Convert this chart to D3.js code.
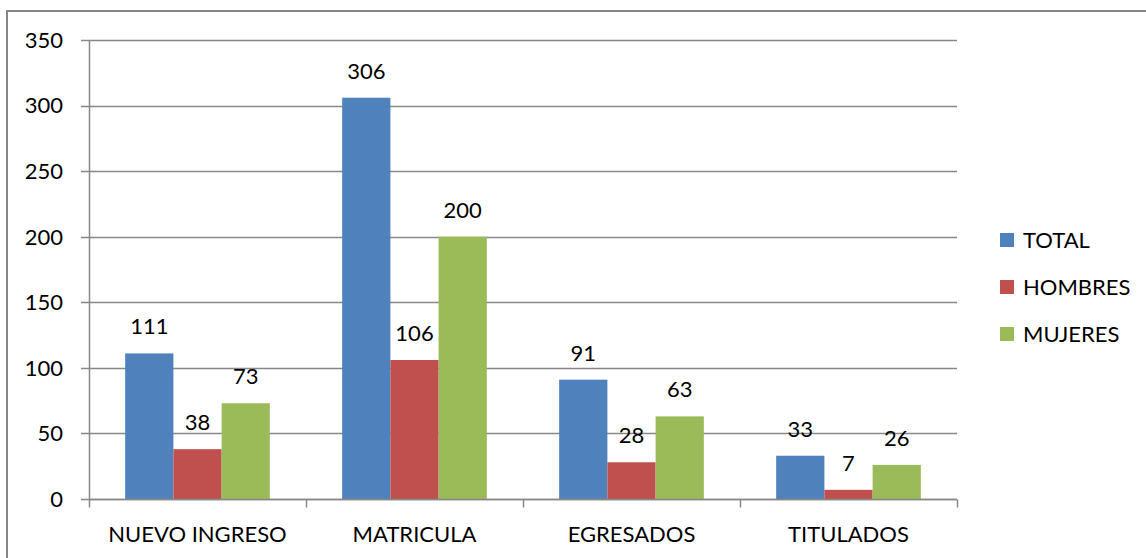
<!DOCTYPE html>
<html>
<head>
<meta charset="utf-8">
<script src="https://cdn.jsdelivr.net/npm/d3@7"></script>
<style>
  body { margin: 0; background: #fff; }
  svg { display: block; font-family: Lato, "Open Sans", sans-serif; }
</style>
</head>
<body>
<svg id="vis" width="1146" height="558"></svg>
<script>
var categories = ["NUEVO INGRESO", "MATRICULA", "EGRESADOS", "TITULADOS"];
var seriesNames = ["TOTAL", "HOMBRES", "MUJERES"];
var total = [111, 306, 91, 33];
var hombres = [38, 106, 28, 7];
var mujeres = [73, 200, 63, 26];
var yTicks = [0, 50, 100, 150, 200, 250, 300, 350];
var colors = ["#4F81BD", "#C0504D", "#9BBB59"];

var values = [total, hombres, mujeres];
var data = [];
categories.forEach(function(c, i) {
	seriesNames.forEach(function(s, j) {
		data.push({cat: c, series: s, value: values[j][i], color: colors[j]});
	});
});

var svg = d3.select("#vis"),
	margin = {top: 40, right: 189, bottom: 59, left: 89},
	width = 1146,
	height = 558;

// outer chart border
svg.append("rect")
	.attr("x", 7).attr("y", 11)
	.attr("width", 1160).attr("height", 580)
	.attr("fill", "none").attr("stroke", "#868686").attr("stroke-width", 2);

var x = d3.scaleBand().domain(categories).range([margin.left, width - margin.right]);
var x1 = d3.scaleBand().domain(seriesNames).range([0, x.bandwidth()]).paddingInner(0).paddingOuter(0.75);
var y = d3.scaleLinear().domain([0, 350]).range([height - margin.bottom, margin.top]);

// gridlines
svg.append("g")
	.selectAll("line")
	.data(yTicks)
	.enter().append("line")
	.attr("x1", margin.left - 8)
	.attr("x2", width - margin.right)
	.attr("y1", function(d) { return Math.round(y(d)) + 0.5; })
	.attr("y2", function(d) { return Math.round(y(d)) + 0.5; })
	.attr("stroke", "#888")
	.attr("stroke-width", 1.5);

// y tick labels
svg.append("g")
	.selectAll("text")
	.data(yTicks)
	.enter().append("text")
	.attr("x", 63)
	.attr("y", function(d) { return y(d); })
	.attr("dy", "0.36em")
	.attr("text-anchor", "end")
	.attr("font-size", 22)
	.text(function(d) { return d; });

// bars
svg.append("g")
	.selectAll("rect")
	.data(data)
	.enter().append("rect")
	.attr("x", function(d) { return x(d.cat) + x1(d.series); })
	.attr("y", function(d) { return y(d.value); })
	.attr("width", x1.bandwidth())
	.attr("height", function(d) { return y(0) - y(d.value); })
	.attr("fill", function(d) { return d.color; });

// value labels
svg.append("g")
	.selectAll("text")
	.data(data)
	.enter().append("text")
	.attr("x", function(d) { return x(d.cat) + x1(d.series) + x1.bandwidth() / 2; })
	.attr("y", function(d) { return y(d.value) - 19; })
	.attr("text-anchor", "middle")
	.attr("font-size", 22)
	.text(function(d) { return d.value; });

// axes lines
var y0 = Math.round(y(0)) + 0.5;
svg.append("line")
	.attr("x1", margin.left + 0.5).attr("x2", margin.left + 0.5)
	.attr("y1", margin.top).attr("y2", y0)
	.attr("stroke", "#888").attr("stroke-width", 1.5);
svg.append("line")
	.attr("x1", margin.left).attr("x2", width - margin.right)
	.attr("y1", y0).attr("y2", y0)
	.attr("stroke", "#888").attr("stroke-width", 1.5);

// category ticks
var bounds = categories.map(function(c) { return x(c); }).concat([width - margin.right]);
svg.append("g")
	.selectAll("line")
	.data(bounds)
	.enter().append("line")
	.attr("x1", function(d) { return Math.round(d) + 0.5; })
	.attr("x2", function(d) { return Math.round(d) + 0.5; })
	.attr("y1", y0).attr("y2", y0 + 8)
	.attr("stroke", "#888").attr("stroke-width", 1.5);

// category labels
svg.append("g")
	.selectAll("text")
	.data(categories)
	.enter().append("text")
	.attr("x", function(d) { return x(d) + x.bandwidth() / 2; })
	.attr("y", 542)
	.attr("text-anchor", "middle")
	.attr("font-size", 22)
	.text(function(d) { return d; });

// legend
var legend = svg.append("g")
	.selectAll("g")
	.data(seriesNames)
	.enter().append("g")
	.attr("transform", function(d, i) { return "translate(1000," + (240 + i * 47) + ")"; });

legend.append("rect")
	.attr("x", 0).attr("y", -7)
	.attr("width", 14).attr("height", 14)
	.attr("fill", function(d, i) { return colors[i]; });

legend.append("text")
	.attr("x", 23)
	.attr("dy", "0.36em")
	.attr("font-size", 22)
	.text(function(d) { return d; });
</script>
</body>
</html>
